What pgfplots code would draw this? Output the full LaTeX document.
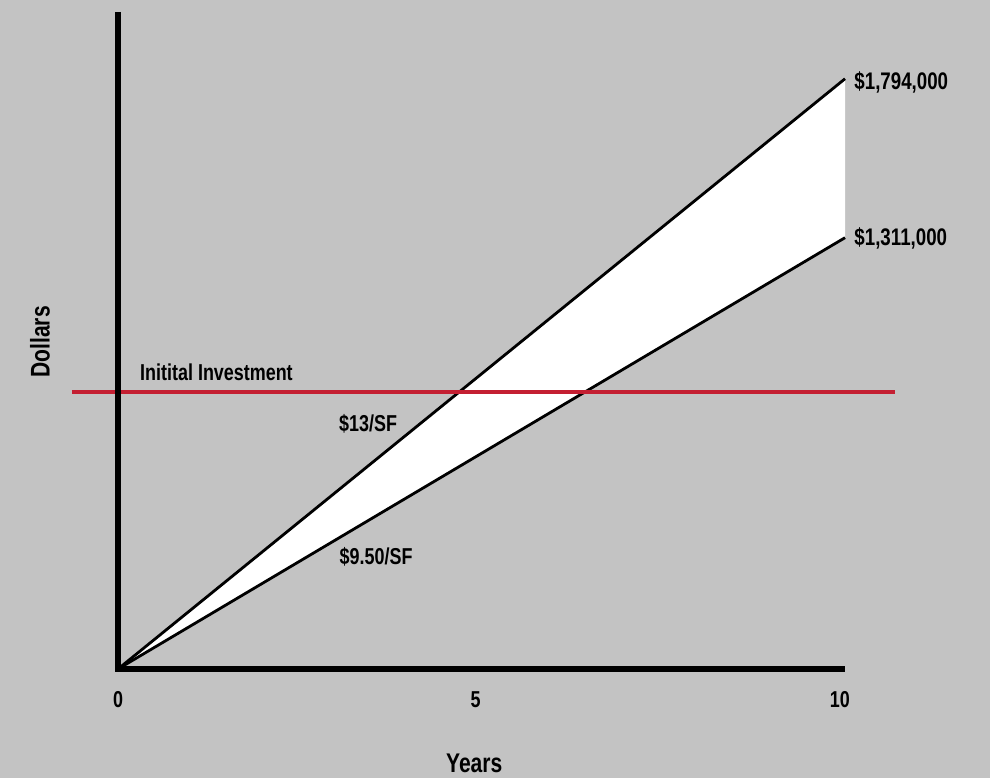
\documentclass[border=0pt]{standalone}
\usepackage{fontspec}
\setmainfont{Liberation Sans}[FakeStretch=0.78, BoldFont={Liberation Sans Bold}, BoldFeatures={FakeStretch=0.78}]
\usepackage{pgfplots}
\pgfplotsset{compat=1.18}
\definecolor{bgc}{RGB}{195,195,195}
\definecolor{redl}{RGB}{196,31,50}
\newcommand{\lb}[1]{{\fontsize{11.5}{13}\selectfont\bfseries #1}}
\newcommand{\mb}[1]{{\fontsize{12}{13}\selectfont\bfseries #1}}
\newcommand{\tl}[1]{{\fontsize{13.5}{15}\selectfont\bfseries #1}}
\begin{document}
\begin{tikzpicture}
\begin{axis}[x=36.35pt, y=0.1645pt,
  xmin=-1.623, xmax=11.994, ymin=-331.3, ymax=2033.4,
  hide axis, clip=false]
\fill[bgc] (axis cs:-1.623,-331.3) rectangle (axis cs:11.994,2033.4);
% white band between the two scenarios (values in thousands of dollars)
\addplot[draw=none, fill=white] coordinates {(0,0) (10,1794) (10,1311) (0,0)} -- cycle;
\addplot[black, line width=1.4pt] coordinates {(0,0) (10,1794)};
\addplot[black, line width=1.4pt] coordinates {(0,0) (10,1311)};
% initial investment
\addplot[redl, line width=2pt] coordinates {(-0.633,842) (10.69,842)};
% axes
\draw[black, line width=2.6pt] (axis cs:0,1997) -- (axis cs:0,0) -- (axis cs:10,0);
% tick labels
\node at (axis cs:0,-94) {\lb{0}};
\node at (axis cs:4.92,-94) {\lb{5}};
\node at (axis cs:9.93,-94) {\lb{10}};
\node at (axis cs:4.90,-286) {\tl{Years}};
\node[rotate=90] at (axis cs:-1.073,994) {\tl{Dollars}};
\node[anchor=west, inner sep=0pt] at (axis cs:0.30,903) {\lb{Initital Investment}};
\node at (axis cs:3.44,745) {\lb{\$13/SF}};
\node at (axis cs:3.55,340) {\lb{\$9.50/SF}};
\node[anchor=west, inner sep=0pt] at (axis cs:10.124,1784) {\mb{\$1,794,000}};
\node[anchor=west, inner sep=0pt] at (axis cs:10.124,1310) {\mb{\$1,311,000}};
\end{axis}
\end{tikzpicture}
\end{document}
